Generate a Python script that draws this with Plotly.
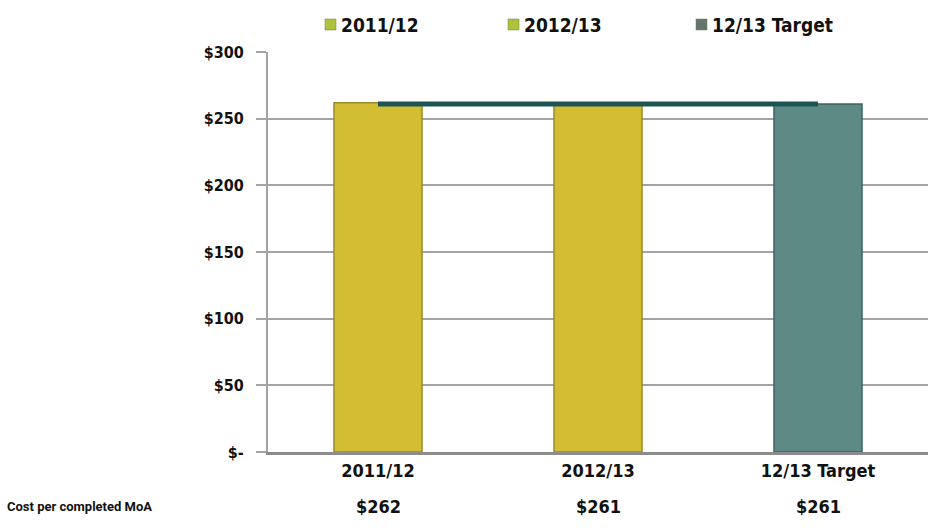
import plotly.graph_objects as go

# Cost per completed MoA by period
categories = ["2011/12", "2012/13", "12/13 Target"]
cost_values = [262, 261, 261]
target_value = 261
row_label = "Cost per completed MoA"
y_ticks = [0, 50, 100, 150, 200, 250, 300]
y_tick_text = ["$-", "$50", "$100", "$150", "$200", "$250", "$300"]

bar_fill = ["#d3be33", "#d3be33", "#5e8a86"]
bar_edge = ["#9c8b25", "#9c8b25", "#3d6461"]
legend_fill = ["#afc23a", "#afc23a", "#66746f"]

FONT = "DejaVu Sans Condensed, DejaVu Sans, sans-serif"
ROW_FONT = "Roboto, Lato, sans-serif"

W, H = 933, 532
L, R, T, B = 268, 5, 52, 80
PW, PH = W - L - R, H - T - B


def px_x(x):
    return (x - L) / PW


def px_y(y):
    return (H - B - y) / PH


fig = go.Figure()

for i, cat in enumerate(categories):
    fig.add_trace(go.Bar(
        x=[cat], y=[cost_values[i]], name=cat, width=0.4,
        marker=dict(color=bar_fill[i], line=dict(color=bar_edge[i], width=1.5)),
        showlegend=False,
    ))

# target line across the periods
fig.add_trace(go.Scatter(
    x=categories, y=[target_value] * len(categories), mode="lines",
    line=dict(color="#1d5553", width=5), showlegend=False, hoverinfo="skip",
))

# legend row across the top
legend_marker_x = [325, 508, 696]
for cat, mx, col in zip(categories, legend_marker_x, legend_fill):
    fig.add_shape(
        type="rect", xref="paper", yref="paper",
        x0=px_x(mx), x1=px_x(mx + 11), y0=px_y(30), y1=px_y(19),
        fillcolor=col, line=dict(color="#6f7d4a", width=0.5),
    )
    fig.add_annotation(
        xref="paper", yref="paper", x=px_x(mx + 14), y=px_y(25),
        xanchor="left", yanchor="middle", text=f"<b>{cat}</b>", showarrow=False,
        font=dict(family=FONT, size=19, color="#111"),
    )

# data table row under the axis
fig.add_annotation(
    xref="paper", yref="paper", x=px_x(5), y=px_y(506),
    xanchor="left", yanchor="middle",
    text=f"<b>{row_label}</b>", showarrow=False,
    font=dict(family=ROW_FONT, size=13, color="#111"),
)
for cat, v in zip(categories, cost_values):
    fig.add_annotation(
        x=cat, yref="paper", y=px_y(506), text=f"<b>${v}</b>", showarrow=False,
        font=dict(family=FONT, size=18, color="#111"), yanchor="middle",
    )

fig.update_layout(
    width=W, height=H,
    margin=dict(l=L, r=R, t=T, b=B),
    paper_bgcolor="white", plot_bgcolor="white",
    barmode="overlay", showlegend=False,
    font=dict(family=FONT, size=17, color="#111"),
    xaxis=dict(
        type="category", categoryorder="array", categoryarray=categories,
        showline=True, linecolor="#8c8c8c", linewidth=3,
        ticks="", showgrid=False, automargin=False,
        tickfont=dict(family=FONT, size=18, color="#111"),
        tickvals=categories, ticktext=[f"<b>{c}</b>" for c in categories],
    ),
    yaxis=dict(
        range=[0, 300], tickvals=y_ticks,
        ticktext=[f"<b>{t}</b>" for t in y_tick_text],
        showgrid=True, gridcolor="#a3a3a3", gridwidth=2,
        showline=True, linecolor="#a3a3a3", linewidth=2,
        ticks="outside", ticklen=10, tickcolor="#a3a3a3", tickwidth=2,
        zeroline=False, automargin=False,
        tickfont=dict(family=FONT, size=16, color="#111"),
        ticklabelstandoff=9,
    ),
)

fig.write_html("out.html")
